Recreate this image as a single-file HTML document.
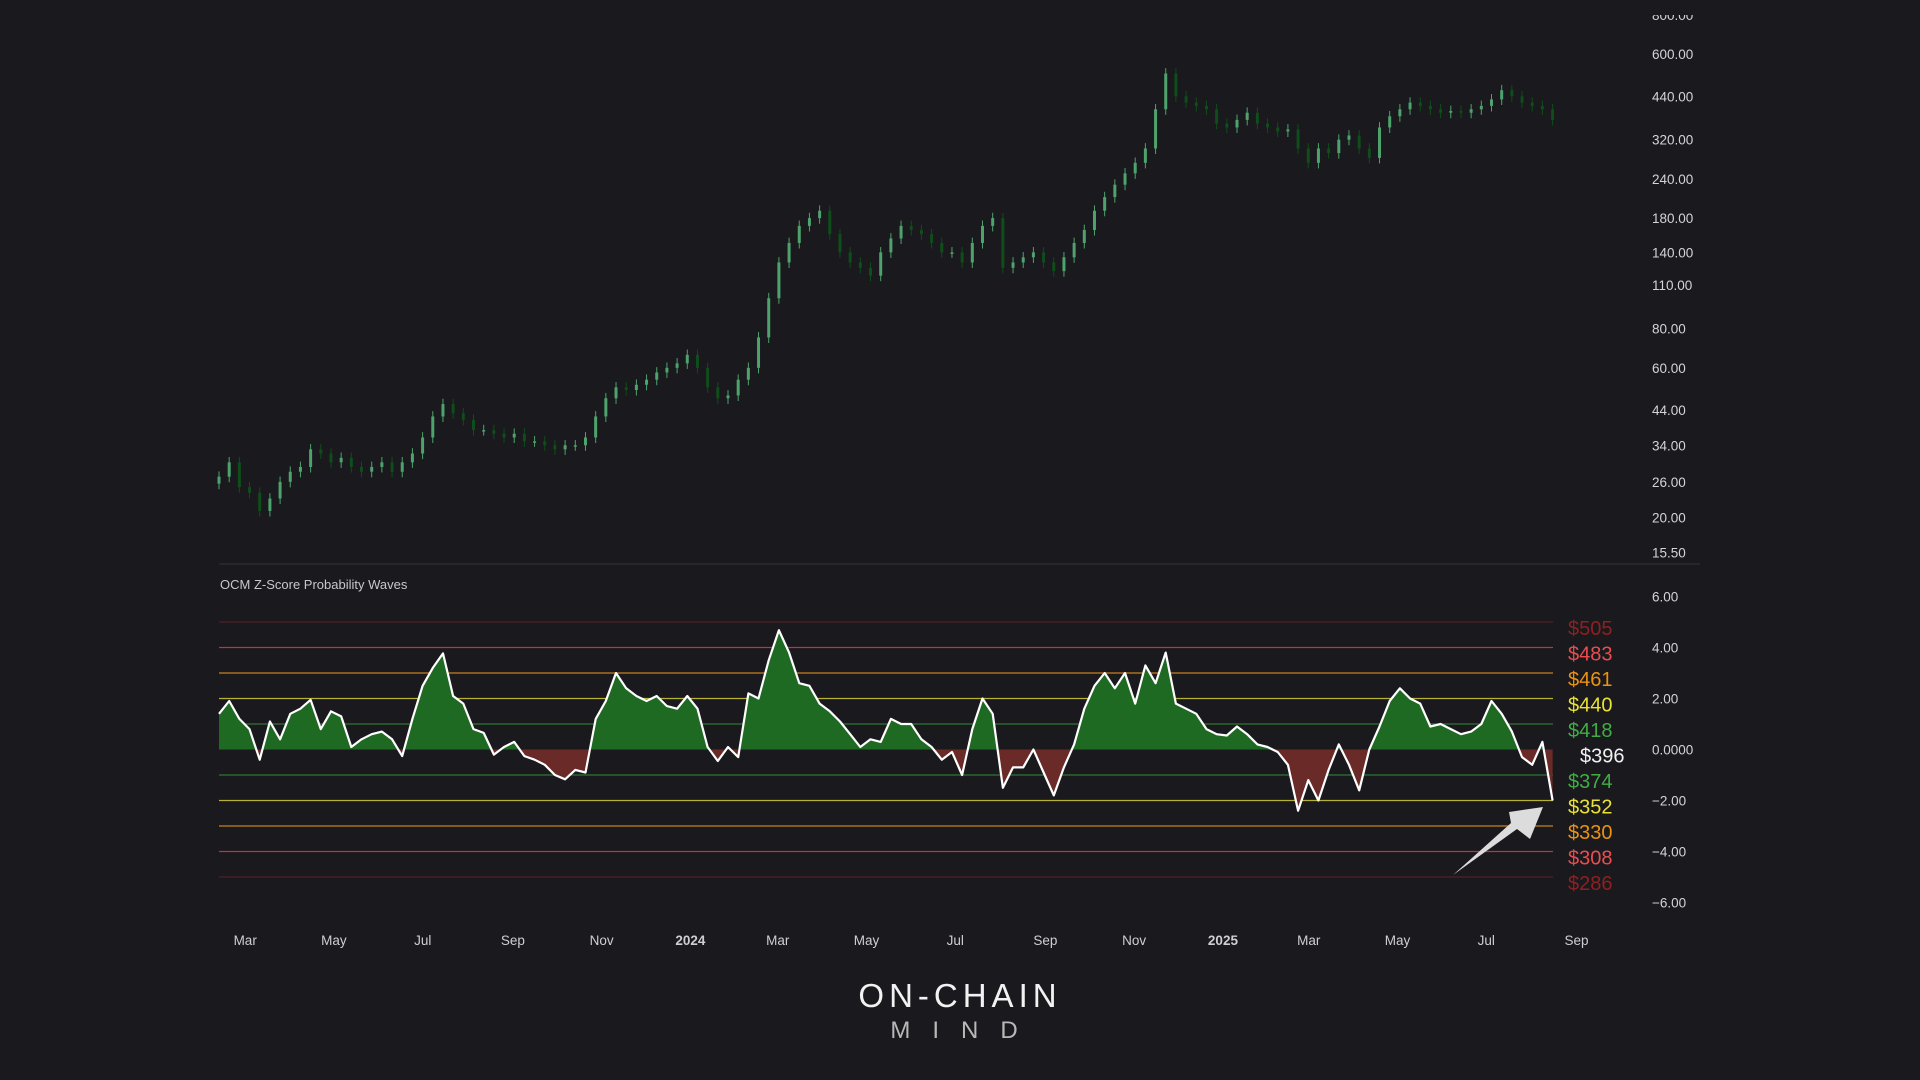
<!DOCTYPE html>
<html><head><meta charset="utf-8">
<style>
html,body{margin:0;padding:0;background:#19191e;}
body{width:1920px;height:1080px;overflow:hidden;font-family:"Liberation Sans",sans-serif;}
svg{display:block}
</style></head>
<body>
<svg id="chart" width="1920" height="1080" xmlns="http://www.w3.org/2000/svg">
<defs><clipPath id="topclip"><rect x="0" y="15" width="1920" height="1065"/></clipPath></defs>
<rect x="0" y="0" width="1920" height="1080" fill="#19191e"/>
<g id="price" clip-path="url(#topclip)"></g>
<line x1="219" y1="564" x2="1700" y2="564" stroke="#2a2a31" stroke-width="1.5"/>
<text x="220" y="589" fill="#c8c8cc" font-size="13">OCM Z-Score Probability Waves</text>
<g id="zpanel"></g>
<g id="xaxis"></g>
<polygon points="1453,875 1517,829 1530,839 1543,807 1509,812 1511,823" fill="#dcdcdc"/>
<text x="960" y="1007" text-anchor="middle" fill="#f2f2f2" font-size="33" letter-spacing="5">ON-CHAIN</text>
<text x="965" y="1038" text-anchor="middle" fill="#b8b8b8" font-size="24" letter-spacing="22">MIND</text>
</svg>
<script>
const NS='http://www.w3.org/2000/svg';
// ---- data ----
const priceClose=[27,30,25,24,21,23,26,28,29,33,32,30,31,29,28,29,30,28,30,32,36,42,46,43,41,38,38,37,36,37,35,35,34,33,34,34,36,42,48,52,51,53,55,58,60,62,66,60,52,48,49,55,60,75,100,130,150,170,180,190,160,140,130,125,118,140,155,170,165,160,150,140,140,130,150,170,180,125,130,135,140,130,122,135,150,165,190,210,230,250,270,300,400,520,440,420,410,400,360,350,370,390,360,350,340,345,300,270,300,290,320,330,300,280,350,380,400,420,410,400,390,395,390,400,410,430,460,440,420,410,400,370];
const zScore=[1.4,1.9,1.2,0.8,-0.4,1.1,0.4,1.4,1.6,1.95,0.8,1.5,1.3,0.1,0.4,0.6,0.7,0.4,-0.26,1.2,2.5,3.2,3.77,2.1,1.8,0.8,0.65,-0.2,0.1,0.3,-0.26,-0.4,-0.6,-1.0,-1.17,-0.8,-0.9,1.2,1.9,3.0,2.4,2.1,1.9,2.1,1.7,1.6,2.1,1.6,0.1,-0.45,0.1,-0.3,2.2,2.0,3.5,4.68,3.8,2.6,2.5,1.8,1.5,1.1,0.6,0.1,0.4,0.3,1.2,1.0,1.0,0.4,0.1,-0.4,-0.1,-1.0,0.8,2.0,1.4,-1.5,-0.7,-0.7,0,-0.9,-1.8,-0.7,0.2,1.6,2.5,3.0,2.4,3.0,1.8,3.3,2.6,3.8,1.8,1.6,1.4,0.8,0.6,0.55,0.9,0.6,0.2,0.1,-0.1,-0.6,-2.4,-1.2,-2.0,-0.8,0.2,-0.6,-1.6,0,0.9,1.9,2.4,2.0,1.8,0.9,1.0,0.8,0.6,0.7,1.0,1.9,1.4,0.7,-0.3,-0.6,0.3,-2.0];
const priceTicks=[800,600,440,320,240,180,140,110,80,60,44,34,26,20,15.5];
const zTicks=[6,4,2,0,-2,-4,-6];
const bandLevels=[5,4,3,2,1,-1,-2,-3,-4,-5];
const bandPrices=['$505','$483','$461','$440','$418','$396','$374','$352','$330','$308','$286'];
const bandPriceLevels=[5,4,3,2,1,0,-1,-2,-3,-4,-5];
const monthLabels=['Mar','May','Jul','Sep','Nov','2024','Mar','May','Jul','Sep','Nov','2025','Mar','May','Jul','Sep'];
const monthDates=['2023-03-01','2023-05-01','2023-07-01','2023-09-01','2023-11-01','2024-01-01','2024-03-01','2024-05-01','2024-07-01','2024-09-01','2024-11-01','2025-01-01','2025-03-01','2025-05-01','2025-07-01','2025-09-01'];
// ---- scales ----
const X0=219, XSTEP=10.18;
const xi=i=>X0+i*XSTEP;
const t0=Date.UTC(2023,1,11);
const xd=s=>X0+(Date.parse(s+'T00:00:00Z')-t0)/86400000*1.455;
const yP=p=>54+136.3*Math.log(600/p);
const yZ=z=>749.5-z*25.5;
function mk(tag,attrs,parent){const e=document.createElementNS(NS,tag);for(const k in attrs)e.setAttribute(k,attrs[k]);parent.appendChild(e);return e;}
const svg=document.getElementById('chart');
const price=document.getElementById('price');
const zp=document.getElementById('zpanel');
const xa=document.getElementById('xaxis');
// price axis labels
priceTicks.forEach(v=>{
  const t=mk('text',{x:1652,y:yP(v)+5,fill:'#d4d4d8','font-size':13.5},price);
  
  
  t.textContent=v.toFixed(2);
});
// candles
priceClose.forEach((c,i)=>{
  const o=i>0?priceClose[i-1]:c*0.95;
  const up=c>=o;
  const hi=Math.max(o,c)*1.04, lo=Math.min(o,c)*0.96;
  const col=up?'#4ea36c':'#0f4d1a';
  const x=xi(i);
  const w=mk('line',{x1:x,x2:x,y1:yP(hi),y2:yP(lo),stroke:col,'stroke-width':1},price);
  
  
  const yt=yP(Math.max(o,c)), yb=yP(Math.min(o,c));
  const r=mk('rect',{x:x-1.5,y:yt,width:3,height:Math.max(1.5,yb-yt),fill:col},price);
  
  
});
// z axis labels
zTicks.forEach(v=>{
  const t=mk('text',{x:1652,y:yZ(v)+5,fill:'#d4d4d8','font-size':13.5},zp);
  
  
  t.textContent=v===0?'0.0000':(v<0?'\u2212'+Math.abs(v).toFixed(2):v.toFixed(2));
});
// band lines
const bandCol={5:'#4f2226',4:'#b43a3c',3:'#c7801c',2:'#b8b234',1:'#2f7436'};
bandLevels.forEach(z=>{
  const l=mk('line',{x1:219,x2:1553,y1:yZ(z),y2:yZ(z),stroke:bandCol[Math.abs(z)],'stroke-width':1.3},zp);
  
  
});
// band price labels
const lblCol={5:'#8e2020',4:'#ec4c4e',3:'#eb930f',2:'#ebe233',1:'#42ac44',0:'#f2f2f2'};
bandPriceLevels.forEach((z,k)=>{
  const t=mk('text',{x:z===0?1580:1568,y:yZ(z)+13,fill:lblCol[Math.abs(z)],'font-size':20},zp);
  
  
  t.textContent=bandPrices[k];
});
// area fills
const defs=mk('defs',{},svg);
const cpA=mk('clipPath',{id:'above'},defs);mk('rect',{x:0,y:0,width:1920,height:yZ(0)},cpA);
const cpB=mk('clipPath',{id:'below'},defs);mk('rect',{x:0,y:yZ(0),width:1920,height:400},cpB);
let line='';zScore.forEach((z,i)=>{line+=(i?'L':'M')+xi(i).toFixed(1)+','+yZ(z).toFixed(1);});
const area=line+'L'+xi(zScore.length-1).toFixed(1)+','+yZ(0)+'L'+X0+','+yZ(0)+'Z';
const ga=mk('path',{d:area,fill:'#1f6a22','clip-path':'url(#above)'},zp);


const gb=mk('path',{d:area,fill:'#6a2a27','clip-path':'url(#below)'},zp);


const zl=mk('path',{d:line,fill:'none',stroke:'#ffffff','stroke-width':2.2,'stroke-linejoin':'round'},zp);


// x axis
monthLabels.forEach((m,k)=>{
  const bold=m.length===4;
  const t=mk('text',{x:xd(monthDates[k]),y:945,'text-anchor':'middle',fill:'#cfcfd3','font-size':13.5,'font-weight':bold?'bold':'normal'},xa);
  
  
  t.textContent=m;
});
</script>
</body></html>
